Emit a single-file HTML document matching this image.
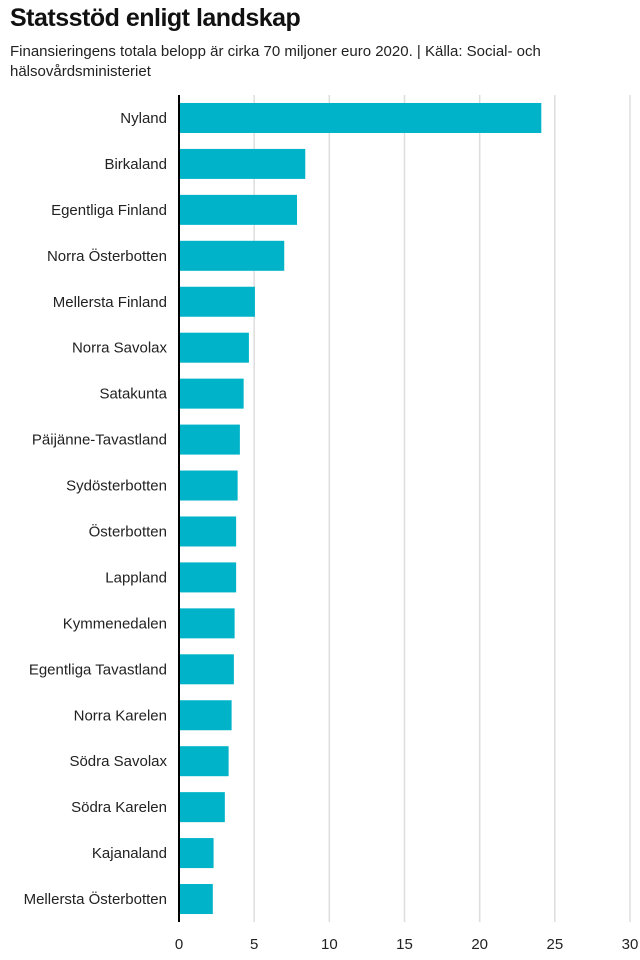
<!DOCTYPE html>
<html><head><meta charset="utf-8">
<style>
body{margin:0;background:#fff;font-family:"Liberation Sans",sans-serif;}
#wrap{position:relative;width:640px;height:960px;overflow:hidden}
h1{position:absolute;left:10px;top:4px;margin:0;font-size:25px;font-weight:bold;color:#111;letter-spacing:-0.5px}
#sub{position:absolute;left:10px;top:42px;width:600px;font-size:15px;line-height:20px;color:#222}
svg text{font-family:"Liberation Sans",sans-serif;font-size:15px;fill:#222}
</style></head><body>
<div id="wrap">
<h1>Statsstöd enligt landskap</h1>
<div id="sub">Finansieringens totala belopp är cirka 70 miljoner euro 2020. | Källa: Social- och hälsovårdsministeriet</div>
<svg id="chart" width="640" height="960" style="position:absolute;left:0;top:0"></svg>
</div>
<script>
const categories=["Nyland","Birkaland","Egentliga Finland","Norra Österbotten","Mellersta Finland","Norra Savolax","Satakunta","Päijänne-Tavastland","Sydösterbotten","Österbotten","Lappland","Kymmenedalen","Egentliga Tavastland","Norra Karelen","Södra Savolax","Södra Karelen","Kajanaland","Mellersta Österbotten"];
const values=[24.1,8.4,7.85,7.0,5.05,4.65,4.3,4.05,3.9,3.8,3.8,3.7,3.65,3.5,3.3,3.05,2.3,2.25];
const ticks=[0,5,10,15,20,25,30];
const NS="http://www.w3.org/2000/svg";
const svg=document.getElementById('chart');
const x0=179,x1=630,xmax=30,yTop=95,yBot=922;
const step=(yBot-yTop)/categories.length;
const bh=30;
function x(v){return x0+(x1-x0)*v/xmax;}
function yc(i){return yTop+step*(i+0.5);}
function mk(t,a){const e=document.createElementNS(NS,t);for(const k in a)e.setAttribute(k,a[k]);svg.appendChild(e);return e;}
ticks.forEach(t=>{
 if(t>0){const g=mk('line',{x1:x(t),x2:x(t),y1:yTop,y2:yBot,stroke:'#ddd','stroke-width':1.5});
 
 }
 const l=mk('text',{x:x(t),y:949,'text-anchor':'middle'});l.textContent=t;
 
 
});
categories.forEach((c,i)=>{
 const r=mk('rect',{x:x0,y:yc(i)-bh/2,width:x(values[i])-x0,height:bh,fill:'#00b3c8'});
 
 
 const t=mk('text',{x:167,y:yc(i)+5,'text-anchor':'end'});t.textContent=c;
 
 
});
const ax=mk('line',{x1:x0,x2:x0,y1:yTop,y2:yBot,stroke:'#000','stroke-width':2});


</script>
</body></html>
